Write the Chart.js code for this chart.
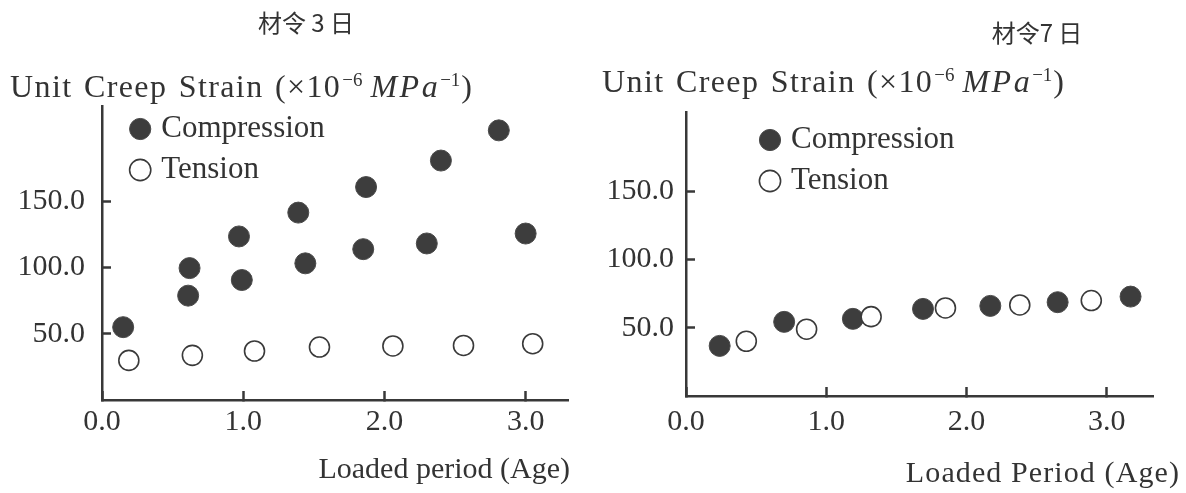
<!DOCTYPE html>
<html>
<head>
<meta charset="utf-8">
<script src="https://cdn.jsdelivr.net/npm/chart.js@4.4.1/dist/chart.umd.min.js"></script>
<style>
  body { margin: 0; background: #fff; }
  .panel { position: absolute; top: 0; width: 593px; height: 493px; }
  #izq { left: 0; }
  #der { left: 593px; }
</style>
</head>
<body>
<div class="panel" id="izq"><canvas id="grafica3" width="593" height="493"></canvas></div>
<div class="panel" id="der"><canvas id="grafica7" width="593" height="493"></canvas></div>
<script>
const series = ["Compression", "Tension"];
const ticksX = [0, 1, 2, 3];
const ticksY = [50, 100, 150];

// 材令3日
const compresionX3 = [0.15, 0.62, 0.61, 0.97, 0.99, 1.39, 1.44, 1.87, 1.85, 2.40, 2.30, 2.81, 3.00];
const compresionY3 = [55.0, 99.6, 78.8, 123.5, 90.6, 141.5, 103.2, 160.8, 113.9, 180.8, 118.2, 203.6, 125.7];
const tensionX3 = [0.19, 0.64, 1.08, 1.54, 2.06, 2.56, 3.05];
const tensionY3 = [29.9, 33.7, 37.0, 40.0, 40.8, 41.2, 42.5];

// 材令7日
const compresionX7 = [0.24, 0.70, 1.19, 1.69, 2.17, 2.65, 3.17];
const compresionY7 = [36.7, 54.3, 56.5, 63.8, 66.0, 68.7, 72.8];
const tensionX7 = [0.43, 0.86, 1.32, 1.85, 2.38, 2.89];
const tensionY7 = [40.1, 48.9, 58.1, 64.5, 66.7, 69.9];

const colorTexto = "#333333";
const colorEje = "#383838";
const serif = "'Liberation Serif', 'Times New Roman', serif";

// titulos, rotulos de ejes y ajuste de la leyenda
const rotulos = {
  id: "rotulos",
  afterLayout(chart, args, opts) {
    if (chart.legend) {
      chart.legend.left = chart.chartArea.left + opts.leyendaDx;
      chart.legend.top = chart.chartArea.top + opts.leyendaDy;
    }
  },
  afterDraw(chart, args, opts) {
    const ctx = chart.ctx;
    ctx.save();
    ctx.fillStyle = colorTexto;

    ctx.textAlign = "center";
    ctx.textBaseline = "middle";
    ctx.font = "24px 'Noto Sans CJK SC'";
    ctx.fillText(opts.titulo, opts.tituloX, opts.tituloY);

    ctx.textAlign = "right";
    ctx.font = "30px " + serif;
    ctx.letterSpacing = opts.ejeXesp + "px";
    ctx.fillText(opts.ejeX, opts.ejeXx, opts.ejeXy);

    const partes = [
      { t: "Unit Creep Strain (\u00d710", f: "32px " + serif, dy: 0, esp: 1.4, antes: 0 },
      { t: "\u22126", f: "19px " + serif, dy: -11, esp: 0, antes: 1 },
      { t: "MPa", f: "italic 32px " + serif, dy: 0, esp: 2.5, antes: 8 },
      { t: "\u22121", f: "19px " + serif, dy: -11, esp: 0, antes: 0 },
      { t: ")", f: "32px " + serif, dy: 0, esp: 0, antes: 1 }
    ];
    ctx.textAlign = "left";
    ctx.textBaseline = "alphabetic";
    ctx.wordSpacing = "2px";
    let x = opts.ejeYx;
    partes.forEach(p => {
      x += p.antes;
      ctx.font = p.f;
      ctx.letterSpacing = p.esp + "px";
      ctx.fillText(p.t, x, opts.ejeYy + p.dy);
      x += ctx.measureText(p.t).width;
    });
    ctx.restore();
  }
};

function puntos(xs, ys) {
  return xs.map((x, i) => ({ x: x, y: ys[i] }));
}

function crearGrafica(id, d) {
  return new Chart(document.getElementById(id), {
    type: "scatter",
    data: {
      datasets: [{
        label: series[0],
        data: puntos(d.compX, d.compY),
        pointRadius: 10.5,
        pointHoverRadius: 10.5,
        backgroundColor: "#3d3d3d",
        borderColor: "#4a4a4a",
        borderWidth: 1,
        order: 1
      }, {
        label: series[1],
        data: puntos(d.tensX, d.tensY),
        pointRadius: 10,
        pointHoverRadius: 10,
        backgroundColor: "#ffffff",
        borderColor: "#3a3a3a",
        borderWidth: 1.6,
        order: 0
      }]
    },
    options: {
      responsive: false,
      animation: false,
      layout: { padding: d.padding },
      scales: {
        x: {
          type: "linear",
          min: 0,
          max: d.maxX,
          afterBuildTicks: s => { s.ticks = ticksX.map(v => ({ value: v })); },
          afterFit: s => { s.height = d.altoX; },
          grid: { drawOnChartArea: false, tickLength: -9, tickWidth: 2.5, tickColor: colorEje },
          border: { color: colorEje, width: 2.5 },
          ticks: {
            autoSkip: false,
            maxRotation: 0,
            padding: d.padX,
            color: colorTexto,
            font: { family: serif, size: 30, lineHeight: 1.2 },
            callback: v => v.toFixed(1)
          }
        },
        y: {
          type: "linear",
          min: 0,
          max: d.maxY,
          afterBuildTicks: s => { s.ticks = ticksY.map(v => ({ value: v })); },
          afterFit: s => { s.width = d.anchoY; },
          grid: { drawOnChartArea: false, tickLength: -9, tickWidth: 2.5, tickColor: colorEje },
          border: { color: colorEje, width: 2.5 },
          ticks: {
            autoSkip: false,
            padding: d.padY,
            color: colorTexto,
            font: { family: serif, size: 30, lineHeight: 1.2 },
            callback: v => v.toFixed(1)
          }
        }
      },
      plugins: {
        legend: {
          position: "chartArea",
          align: "start",
          labels: {
            usePointStyle: true,
            boxWidth: 11,
            boxHeight: 15,
            padding: 10,
            color: colorTexto,
            font: { family: serif, size: 31 },
            sort: (a, b) => a.datasetIndex - b.datasetIndex
          }
        },
        tooltip: { enabled: false },
        rotulos: d.rotulos
      }
    },
    plugins: [rotulos]
  });
}

crearGrafica("grafica3", {
  compX: compresionX3, compY: compresionY3, tensX: tensionX3, tensY: tensionY3,
  maxX: 3.3, maxY: 222,
  padding: { top: 106, right: 25, bottom: 0, left: 0 },
  anchoY: 102, altoX: 93, padX: 13, padY: 26,
  rotulos: {
    leyendaDx: 22.7, leyendaDy: -2.5,
    titulo: "材令 3 日", tituloX: 306, tituloY: 22.5,
    ejeX: "Loaded period (Age)", ejeXx: 570, ejeXy: 470, ejeXesp: 0,
    ejeYx: 10, ejeYy: 97
  }
});

crearGrafica("grafica7", {
  compX: compresionX7, compY: compresionY7, tensX: tensionX7, tensY: tensionY7,
  maxX: 3.33, maxY: 208,
  padding: { top: 112, right: 33, bottom: 0, left: 0 },
  anchoY: 93, altoX: 97, padX: 17, padY: 21,
  rotulos: {
    leyendaDx: 68.5, leyendaDy: 2.5,
    titulo: "材令7 日", tituloX: 444, tituloY: 32.5,
    ejeX: "Loaded Period (Age)", ejeXx: 587, ejeXy: 474, ejeXesp: 1.1,
    ejeYx: 9, ejeYy: 92
  }
});
</script>
</body>
</html>
